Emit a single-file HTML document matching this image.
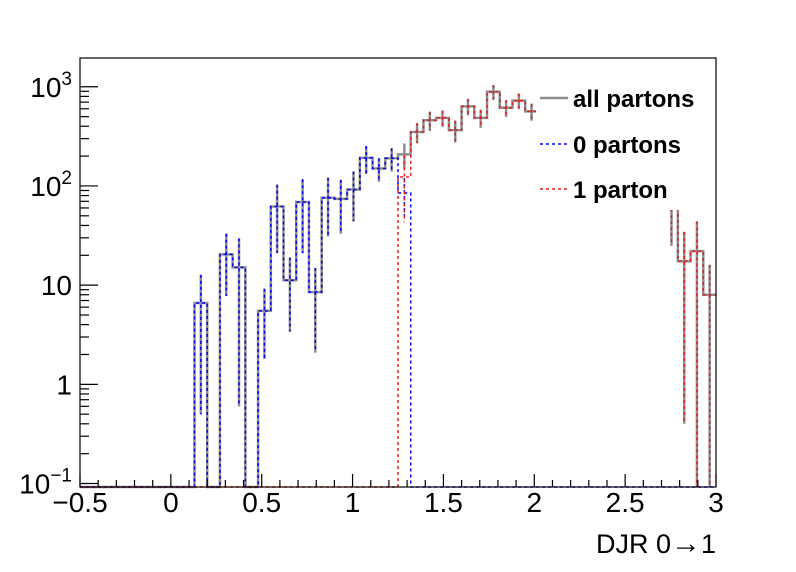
<!DOCTYPE html>
<html><head><meta charset="utf-8"><style>
html,body{margin:0;padding:0;background:#fff;}
svg{display:block;font-family:"Liberation Sans",sans-serif;}
</style></head><body>
<svg id="chart" width="796" height="572" viewBox="0 0 796 572">
<rect x="0" y="0" width="796" height="572" fill="#fff"/>
<g id="plot"></g>
<g id="axes"></g>
<g id="legend">
  <rect x="536" y="80" width="179" height="130" fill="#fff"/>
  <line x1="540" y1="98" x2="568" y2="98" stroke="#8c8c8c" stroke-width="2.5"/>
  <text x="573" y="107" font-size="24" font-weight="bold">all partons</text>
  <line x1="540" y1="144" x2="568" y2="144" stroke="#0000ff" stroke-width="1.5" stroke-dasharray="3,3"/>
  <text x="573" y="153" font-size="24" font-weight="bold">0 partons</text>
  <line x1="540" y1="189" x2="568" y2="189" stroke="#e02020" stroke-width="1.5" stroke-dasharray="3,3"/>
  <text x="573" y="198" font-size="24" font-weight="bold">1 parton</text>
</g>
<text x="716" y="553" font-size="27" text-anchor="end">DJR 0<tspan font-size="30">→</tspan>1</text>
</svg>
<script>
// 50 bins from -0.5 to 3.0; null = bin not drawn (gap)
const xMin = -0.5, xMax = 3.0, nBins = 50;
const valsAll = [0,0,0,0,0,0,0,0,0,6.6,0,20.4,15.1,0,5.5,62,11.2,69,8.5,76,74,92,192,150,190,208,350,460,485,365,635,485,890,615,725,565,null,null,null,null,null,null,null,null,null,null,90,17.4,22,8];
const errAll  = [0,0,0,0,0,0,0,0,0,6.1,0,12.6,14.5,0,3.7,41,7.8,48,6.4,45,41,48,60,40,50,60,80,100,90,90,120,100,150,120,130,110,0,0,0,0,0,0,0,0,0,0,65,17,22,8];
const vals0   = [0,0,0,0,0,0,0,0,0,6.6,0,20.4,15.1,0,5.5,62,11.2,69,8.5,76,74,92,192,150,190,85,0,0,0,0,0,0,0,0,0,0,0,0,0,0,0,0,0,0,0,0,0,0,0,0];
const err0    = [0,0,0,0,0,0,0,0,0,6.1,0,12.6,14.5,0,3.7,41,7.8,48,6.4,45,41,48,60,40,50,35,0,0,0,0,0,0,0,0,0,0,0,0,0,0,0,0,0,0,0,0,0,0,0,0];
const vals1   = [0,0,0,0,0,0,0,0,0,0,0,0,0,0,0,0,0,0,0,0,0,0,0,0,0,123,350,460,485,365,635,485,890,615,725,565,null,null,null,null,null,null,null,null,null,null,90,17.4,22,8];
const err1    = [0,0,0,0,0,0,0,0,0,0,0,0,0,0,0,0,0,0,0,0,0,0,0,0,0,80,80,100,90,90,120,100,150,120,130,110,0,0,0,0,0,0,0,0,0,0,65,17,22,8];
const xTicks = [-0.5,0,0.5,1,1.5,2,2.5,3];
const xTickLabels = ["\u22120.5","0","0.5","1","1.5","2","2.5","3"];
const yDecades = [-1,0,1,2,3];

const L=80,R=716,T=58,B=487;
const logMin = -1.035, logMax = 3.29;
function xs(v){return L+(v-xMin)/(xMax-xMin)*(R-L);}
function ys(v){return B-(Math.log10(v)-logMin)/(logMax-logMin)*(B-T);}
function yc(v){ if(v<=0) return B; return Math.max(T,Math.min(B,ys(v))); }
const bw=(xMax-xMin)/nBins;
const NS="http://www.w3.org/2000/svg";
const plot=document.getElementById('plot');
const axes=document.getElementById('axes');
function mk(tag,attrs,parent){const e=document.createElementNS(NS,tag);for(const k in attrs)e.setAttribute(k,attrs[k]);parent.appendChild(e);return e;}

function drawHist(vals,errs,color,dash,width,name){
  const g=mk('g',{},plot);
  
  
  let d='', open=false;
  for(let i=0;i<nBins;i++){
    if(vals[i]===null){open=false;continue;}
    const x0=xs(xMin+i*bw), x1=xs(xMin+(i+1)*bw), y=yc(vals[i]);
    d+=(open?'L':'M')+x0+','+y+'L'+x1+','+y;
    open=true;
  }
  const p=mk('path',{d:d,fill:'none',stroke:color,'stroke-width':width},g);
  if(dash)p.setAttribute('stroke-dasharray',dash);
  
  
  for(let i=0;i<nBins;i++){
    if(!(vals[i]>0)||errs[i]<=0)continue;
    const xc=xs(xMin+(i+0.5)*bw);
    const lo=vals[i]-errs[i], hi=vals[i]+errs[i];
    const eb=mk('line',{x1:xc,x2:xc,y1:yc(hi),y2:lo>0?yc(lo):B,stroke:color,'stroke-width':width},g);
    if(dash)eb.setAttribute('stroke-dasharray',dash);
    
    
  }
}
drawHist(valsAll,errAll,'#8f8f8f',null,2.5,'hist-all-partons');
drawHist(vals0,err0,'#0000ff','3,3',1.5,'hist-0-partons');
drawHist(vals1,err1,'#e02020','3,3',1.5,'hist-1-parton');

const fr=mk('rect',{x:L,y:T,width:R-L,height:B-T,fill:'none',stroke:'#000','stroke-width':1.2},axes);


for(let k=0;k<=35;k++){
  const v=xMin+k*0.1, x=xs(v), major=(k%5===0);
  const t=mk('line',{x1:x,x2:x,y1:B,y2:B-(major?13:7),stroke:'#000','stroke-width':1.2},axes);
  
  
}
xTicks.forEach((v,i)=>{
  const t=mk('text',{x:xs(v),y:B+25,'font-size':28,'text-anchor':'middle'},axes);
  t.textContent=xTickLabels[i];
  
  
});
for(let d=-2;d<=3;d++){
  for(let m=1;m<=9;m++){
    const v=m*Math.pow(10,d), lv=Math.log10(v);
    if(lv<logMin||lv>logMax)continue;
    const y=ys(v);
    const t=mk('line',{x1:L,x2:L+(m===1?18:9),y1:y,y2:y,stroke:'#000','stroke-width':1.2},axes);
    
    
  }
}
yDecades.forEach(d=>{
  const y=ys(Math.pow(10,d))+10;
  const t=mk('text',{x:72,y:y,'font-size':28,'text-anchor':'end'},axes);
  
  
  if(d===0){t.textContent='1';}
  else if(d===1){t.textContent='10';}
  else{
    const a=mk('tspan',{},t);a.textContent='10';
    const b=mk('tspan',{dy:-12,'font-size':19},t);b.textContent=(d<0?'\u2212':'')+Math.abs(d);
  }
});
</script>
</body></html>
